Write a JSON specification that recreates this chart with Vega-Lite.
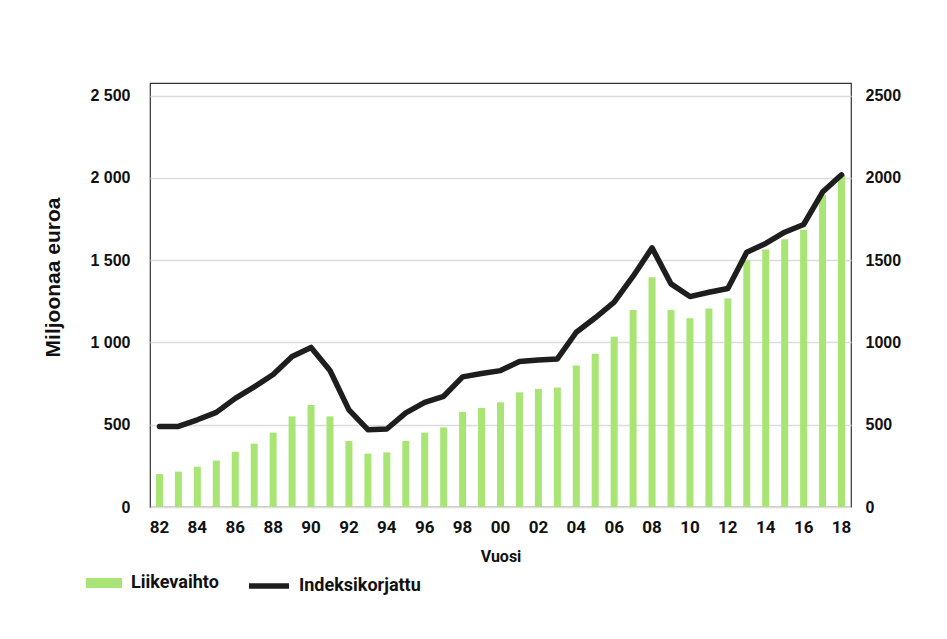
{
  "$schema": "https://vega.github.io/schema/vega-lite/v6.json",
  "width": 701,
  "height": 424,
  "autosize": {"type": "none"},
  "padding": {"left": 150, "top": 83, "right": 96, "bottom": 132},
  "background": "white",
  "config": {
    "view": {"stroke": "#333333", "strokeWidth": 1.2},
    "axis": {"ticks": false, "domain": false, "labelColor": "#111111", "titleColor": "#111111"}
  },
  "data": {
    "values": [
      {"year": 1982, "liikevaihto": 200, "indeksi": 490},
      {"year": 1983, "liikevaihto": 215, "indeksi": 490},
      {"year": 1984, "liikevaihto": 245, "indeksi": 530},
      {"year": 1985, "liikevaihto": 282, "indeksi": 575},
      {"year": 1986, "liikevaihto": 336, "indeksi": 660},
      {"year": 1987, "liikevaihto": 385, "indeksi": 730},
      {"year": 1988, "liikevaihto": 452, "indeksi": 805},
      {"year": 1989, "liikevaihto": 551, "indeksi": 915},
      {"year": 1990, "liikevaihto": 620, "indeksi": 970},
      {"year": 1991, "liikevaihto": 551, "indeksi": 830},
      {"year": 1992, "liikevaihto": 401, "indeksi": 590},
      {"year": 1993, "liikevaihto": 324, "indeksi": 470},
      {"year": 1994, "liikevaihto": 332, "indeksi": 474},
      {"year": 1995, "liikevaihto": 401, "indeksi": 572},
      {"year": 1996, "liikevaihto": 452, "indeksi": 636},
      {"year": 1997, "liikevaihto": 484, "indeksi": 673},
      {"year": 1998, "liikevaihto": 578, "indeksi": 791},
      {"year": 1999, "liikevaihto": 602, "indeksi": 811},
      {"year": 2000, "liikevaihto": 636, "indeksi": 829},
      {"year": 2001, "liikevaihto": 697, "indeksi": 884},
      {"year": 2002, "liikevaihto": 718, "indeksi": 894},
      {"year": 2003, "liikevaihto": 726, "indeksi": 900},
      {"year": 2004, "liikevaihto": 860, "indeksi": 1062},
      {"year": 2005, "liikevaihto": 932, "indeksi": 1150},
      {"year": 2006, "liikevaihto": 1034, "indeksi": 1245},
      {"year": 2007, "liikevaihto": 1198, "indeksi": 1403},
      {"year": 2008, "liikevaihto": 1397, "indeksi": 1575},
      {"year": 2009, "liikevaihto": 1198, "indeksi": 1356},
      {"year": 2010, "liikevaihto": 1147, "indeksi": 1279},
      {"year": 2011, "liikevaihto": 1206, "indeksi": 1305},
      {"year": 2012, "liikevaihto": 1267, "indeksi": 1328},
      {"year": 2013, "liikevaihto": 1498, "indeksi": 1549},
      {"year": 2014, "liikevaihto": 1565, "indeksi": 1602},
      {"year": 2015, "liikevaihto": 1628, "indeksi": 1670},
      {"year": 2016, "liikevaihto": 1685, "indeksi": 1717},
      {"year": 2017, "liikevaihto": 1895, "indeksi": 1914},
      {"year": 2018, "liikevaihto": 2019, "indeksi": 2019}
    ]
  },
  "encoding": {
    "x": {
      "field": "year",
      "type": "ordinal",
      "scale": {"paddingInner": 0.63, "paddingOuter": 0.315},
      "axis": {
        "labelAngle": 0,
        "labelExpr": "datum.value % 2 == 0 ? format(datum.value % 100, '02d') : ''",
        "labelFont": "Roboto",
        "labelFontWeight": "bold",
        "labelFontSize": 17,
        "labelPadding": 12,
        "grid": false,
        "title": "Vuosi",
        "titleFont": "Roboto",
        "titleFontWeight": "bold",
        "titleFontSize": 16,
        "titleY": 49,
        "titleBaseline": "middle"
      }
    }
  },
  "layer": [
    {
      "mark": {"type": "bar"},
      "encoding": {
        "y": {
          "field": "liikevaihto",
          "type": "quantitative",
          "scale": {"domain": [0, 2577], "nice": false},
          "axis": {
            "values": [0, 500, 1000, 1500, 2000, 2500],
            "labelExpr": "replace(format(datum.value, ','), ',', ' ')",
            "labelFont": "Liberation Sans",
            "labelFontWeight": "bold",
            "labelFontSize": 16,
            "labelPadding": 20,
            "grid": true,
            "gridColor": "#dcdcdc",
            "gridWidth": 1.3,
            "title": "Miljoonaa euroa",
            "titleFont": "Liberation Sans",
            "titleFontWeight": "bold",
            "titleFontSize": 21,
            "titleX": -97,
            "titleY": 194,
            "titleAngle": -90,
            "titleAlign": "center",
            "titleBaseline": "middle"
          }
        },
        "fill": {
          "datum": "Liikevaihto",
          "scale": {"domain": ["Liikevaihto"], "range": ["#a8e574"]},
          "legend": {
            "orient": "none",
            "legendX": -64,
            "legendY": 482,
            "title": null,
            "padding": 0,
            "symbolType": "M-1,-0.28H1V0.28H-1Z",
            "symbolSize": 1296,
            "symbolStrokeWidth": 0,
            "labelFont": "Roboto",
            "labelFontWeight": "bold",
            "labelFontSize": 18,
            "labelColor": "#111111",
            "labelOffset": 9,
            "labelLimit": 300
          }
        }
      }
    },
    {
      "mark": {"type": "line", "strokeWidth": 5.5, "strokeJoin": "round", "strokeCap": "round"},
      "encoding": {
        "y": {
          "field": "indeksi",
          "type": "quantitative",
          "scale": {"domain": [0, 2577], "nice": false},
          "axis": {
            "orient": "right",
            "values": [0, 500, 1000, 1500, 2000, 2500],
            "format": "d",
            "labelFont": "Liberation Sans",
            "labelFontWeight": "bold",
            "labelFontSize": 16,
            "labelPadding": 14,
            "grid": false,
            "title": null
          }
        },
        "stroke": {
          "datum": "Indeksikorjattu",
          "scale": {"domain": ["Indeksikorjattu"], "range": ["#1e1e1e"]},
          "legend": {
            "orient": "none",
            "legendX": 96,
            "legendY": 480,
            "title": null,
            "padding": 0,
            "symbolType": "stroke",
            "symbolSize": 1600,
            "symbolStrokeWidth": 5.5,
            "labelFont": "Roboto",
            "labelFontWeight": "bold",
            "labelFontSize": 18,
            "labelColor": "#111111",
            "labelOffset": 7,
            "labelLimit": 300
          }
        }
      }
    }
  ],
  "resolve": {"scale": {"y": "independent"}}
}
